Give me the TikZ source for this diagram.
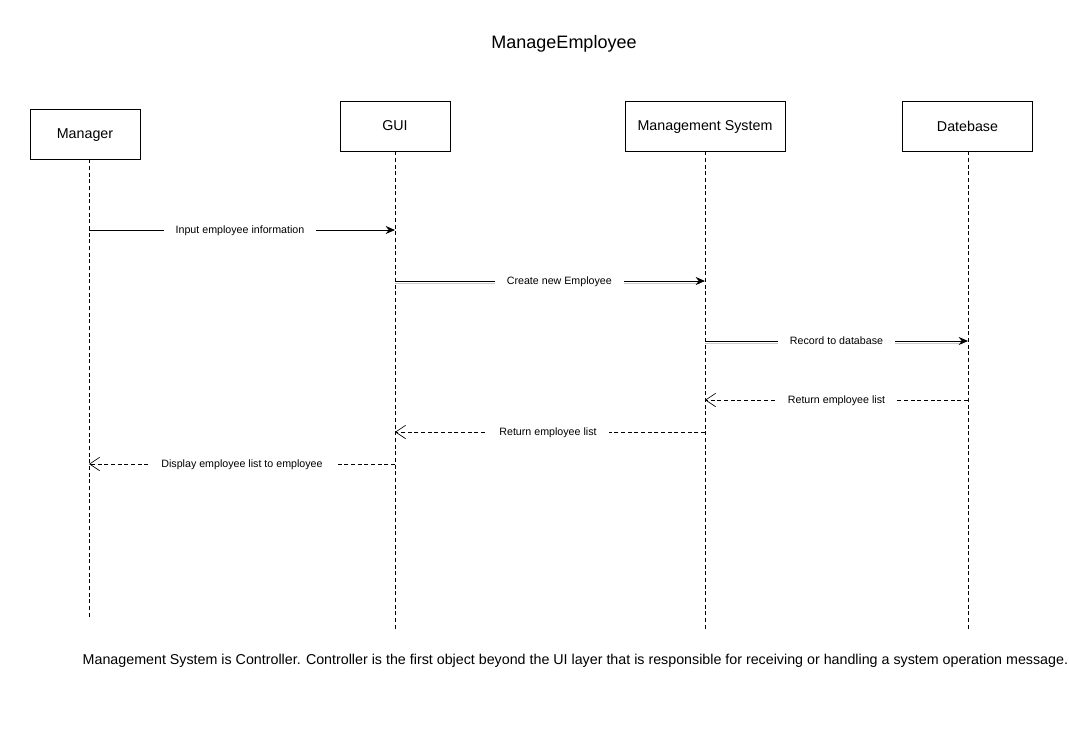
\documentclass[tikz,border=0pt]{standalone}
\usepackage{fontspec}
\setmainfont{Liberation Sans}
\usetikzlibrary{arrows.meta, positioning}

\tikzset{
  obj/.style={draw, line width=0.7pt, minimum height=37.5pt, text depth=0pt, font=\fontsize{10.7}{12}\selectfont},
  life/.style={dashed, dash pattern=on 3pt off 2pt, line width=0.6pt},
  call/.style={line width=0.7pt, -{Stealth[length=7pt,width=6pt]}},
  reply/.style={line width=0.6pt, dash pattern=on 3pt off 2pt, -{Straight Barb[length=7.5pt,width=10pt,line width=0.5pt]}},
  shade/.style={line width=0.9pt, black!20},
  msg/.style={fill=white, inner xsep=9pt, text depth=0pt, font=\fontsize{8}{9}\selectfont}
}

\begin{document}
\begin{tikzpicture}[x=0.75pt, y=-0.75pt]
\useasboundingbox (0,0) rectangle (1069,740);

\node (title) at (564,44) {\fontsize{13.5}{16}\selectfont ManageEmployee};

% objects
\node[obj, minimum width=82.5pt] (man) at (85,134) {Manager};
\node[obj, minimum width=82.5pt] (gui) at (395,126) {GUI};
\node[obj, minimum width=120pt] (sys) at (705,126) {Management System};
\node[obj, minimum width=98pt] (db) at (967.5,126) {Datebase};

% lifeline ends
\coordinate (manE) at (89,619);
\coordinate (guiE) at (395,630);
\coordinate (sysE) at (705,630);
\coordinate (dbE) at (968,630);
\draw[life] (man.south -| manE) -- (manE);
\draw[life] (gui.south) -- (guiE);
\draw[life] (sys.south) -- (sysE);
\draw[life] (db.south -| dbE) -- (dbE);

% message points
\coordinate (a1) at (89,230);  \coordinate (b1) at (395,230);
\coordinate (a2) at (395,281); \coordinate (b2) at (705,281);
\coordinate (a3) at (705,341); \coordinate (b3) at (968,341);
\coordinate (a4) at (968,400); \coordinate (b4) at (705,400);
\coordinate (a5) at (705,432); \coordinate (b5) at (395,432);
\coordinate (a6) at (395,464); \coordinate (b6) at (89,464);

\draw[shade] ([yshift=-1.6pt]a2) -- ([yshift=-1.6pt,xshift=-4pt]b2);
\draw[shade] ([yshift=-1.6pt]a3) -- ([yshift=-1.6pt,xshift=-4pt]b3);

\draw[call] (a1) -- node[msg, xshift=-1.5pt] {Input employee information} (b1);
\draw[call] (a2) -- node[msg, xshift=7pt] {Create new Employee} (b2);
\draw[call] (a3) -- node[msg] {Record to database} (b3);
\draw[reply] (a4) -- node[msg] {Return employee list} (b4);
\draw[reply] (a5) -- node[msg, xshift=-1.5pt] {Return employee list} (b5);
\draw[reply] (a6) -- node[msg] {Display employee list to employee} (b6);

\node[anchor=west, font=\fontsize{10.7}{12}\selectfont] (note) at (78,661) {Management System is Controller. Controller is the first object beyond the UI layer that is responsible for receiving or handling a system operation message.};
\end{tikzpicture}
\end{document}
